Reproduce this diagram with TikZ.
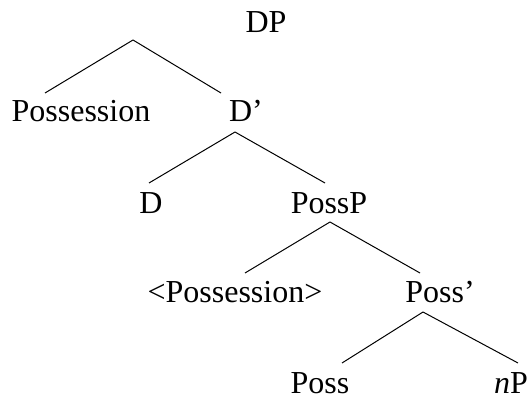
\documentclass[tikz,border=0pt]{standalone}
\usepackage{fontspec}
\setmainfont{Liberation Serif}

\def\txtsize{\fontsize{32}{38}\selectfont}

\begin{document}
\begin{tikzpicture}[x=1pt,y=-1pt,line width=1pt]
    \tikzstyle{cat}=[anchor=base,inner sep=0pt,text depth=0pt,font=\txtsize]
    \useasboundingbox (0,0) rectangle (529,398);

    % categories
    \foreach \name/\x/\y/\txt in {DP/266/33/DP,
                                  Possession/81/122/Possession,
                                  Dbar/246/122/D',
                                  D/151/213/D,
                                  PossP/329/213/PossP,
                                  Trace/235/302/<Possession>,
                                  Possbar/440/302/Poss',
                                  Poss/320/393/Poss,
                                  nP/511/393/\textit{n}P}
        \node[cat] (\name) at (\x,\y) {\txt};

    % branch ends
    \coordinate (DP-b) at (133,40);
    \coordinate (Possession-t) at (45,93);
    \coordinate (Dbar-t) at (221,93);
    \coordinate (Dbar-b) at (235,132);
    \coordinate (D-t) at (149,183);
    \coordinate (PossP-t) at (325,183);
    \coordinate (PossP-b) at (330,222);
    \coordinate (Trace-t) at (245,273);
    \coordinate (Possbar-t) at (420,273);
    \coordinate (Possbar-b) at (423,312);
    \coordinate (Poss-t) at (342,363);
    \coordinate (nP-t) at (518,363);

    \foreach \source/\dest in {DP/Possession,DP/Dbar,Dbar/D,Dbar/PossP,
                               PossP/Trace,PossP/Possbar,Possbar/Poss,Possbar/nP}
        \draw (\source-b) -- (\dest-t);
\end{tikzpicture}
\end{document}
